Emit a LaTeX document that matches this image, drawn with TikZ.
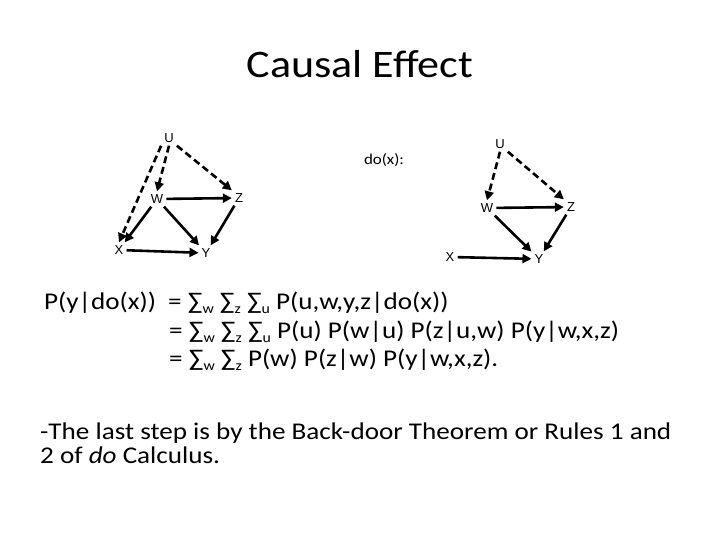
\documentclass[tikz,border=0pt]{standalone}
\usepackage{fontspec}
\setmainfont[FakeStretch=1.13]{Carlito}
\newfontfamily\lblfont{Liberation Sans}
\usetikzlibrary{arrows.meta}
\newcommand{\lowsub}[1]{\raisebox{-0.4ex}{\fontsize{14}{14}\selectfont #1}}
\begin{document}
\begin{tikzpicture}[x=1pt,y=-1pt,
  vlbl/.style={font=\lblfont\fontsize{13}{13}\selectfont, inner sep=3pt},
  solidarr/.style={line width=2.6pt, -{Triangle[length=9pt,width=9pt]}},
  dasharr/.style={solidarr, dash pattern=on 7pt off 4pt},
  txt/.style={font=\fontsize{24}{28}\selectfont, anchor=base west, inner sep=0pt}]
\useasboundingbox (0,0) rectangle (720,540);
\node[font=\fontsize{39}{44}\selectfont, anchor=base, inner sep=0pt] (title) at (360,78) {Causal Effect};
% left graph
\node[vlbl] (U1) at (169,138) {U};
\node[vlbl] (W1) at (157,199) {W};
\node[vlbl] (Z1) at (239,198) {Z};
\node[vlbl] (X1) at (119,250) {X};
\node[vlbl] (Y1) at (206,253) {Y};
\draw[dasharr] (U1.south) -- (W1.north);
\draw[dasharr] (U1.south west) -- (X1.north);
\draw[dasharr] (U1.south east) -- (Z1.north west);
\draw[solidarr] (W1) -- (Z1);
\draw[solidarr] (W1) -- (X1);
\draw[solidarr] (W1) -- (Y1);
\draw[solidarr] (Z1) -- (Y1);
\draw[solidarr] (X1) -- (Y1);
% right graph
\node[font=\fontsize{15}{15}\selectfont] (dox) at (384,160) {do(x):};
\node[vlbl] (U2) at (500,144) {U};
\node[vlbl] (W2) at (487,208) {W};
\node[vlbl] (Z2) at (571,207) {Z};
\node[vlbl] (X2) at (450,257) {X};
\node[vlbl] (Y2) at (539,259) {Y};
\draw[dasharr] (U2.south) -- (W2.north);
\draw[dasharr] (U2.south east) -- (Z2.north west);
\draw[solidarr] (W2) -- (Z2);
\draw[solidarr] (W2) -- (Y2);
\draw[solidarr] (Z2) -- (Y2);
\draw[solidarr] (X2) -- (Y2);
% equations
\node[txt] (e0) at (44,309) {P(y|do(x))};
\node[txt] (e1) at (168,309) {= ∑\lowsub{w} ∑\lowsub{z} ∑\lowsub{u} P(u,w,y,z|do(x))};
\node[txt] (e2) at (169,338) {= ∑\lowsub{w} ∑\lowsub{z} ∑\lowsub{u} P(u) P(w|u) P(z|u,w) P(y|w,x,z)};
\node[txt] (e3) at (169,366) {= ∑\lowsub{w} ∑\lowsub{z} P(w) P(z|w) P(y|w,x,z).};
% note
\node[txt] (n1) at (40,439) {-The last step is by the Back-door Theorem or Rules 1 and};
\node[txt] (n2) at (40,463) {2 of \textit{do} Calculus.};
\end{tikzpicture}
\end{document}
